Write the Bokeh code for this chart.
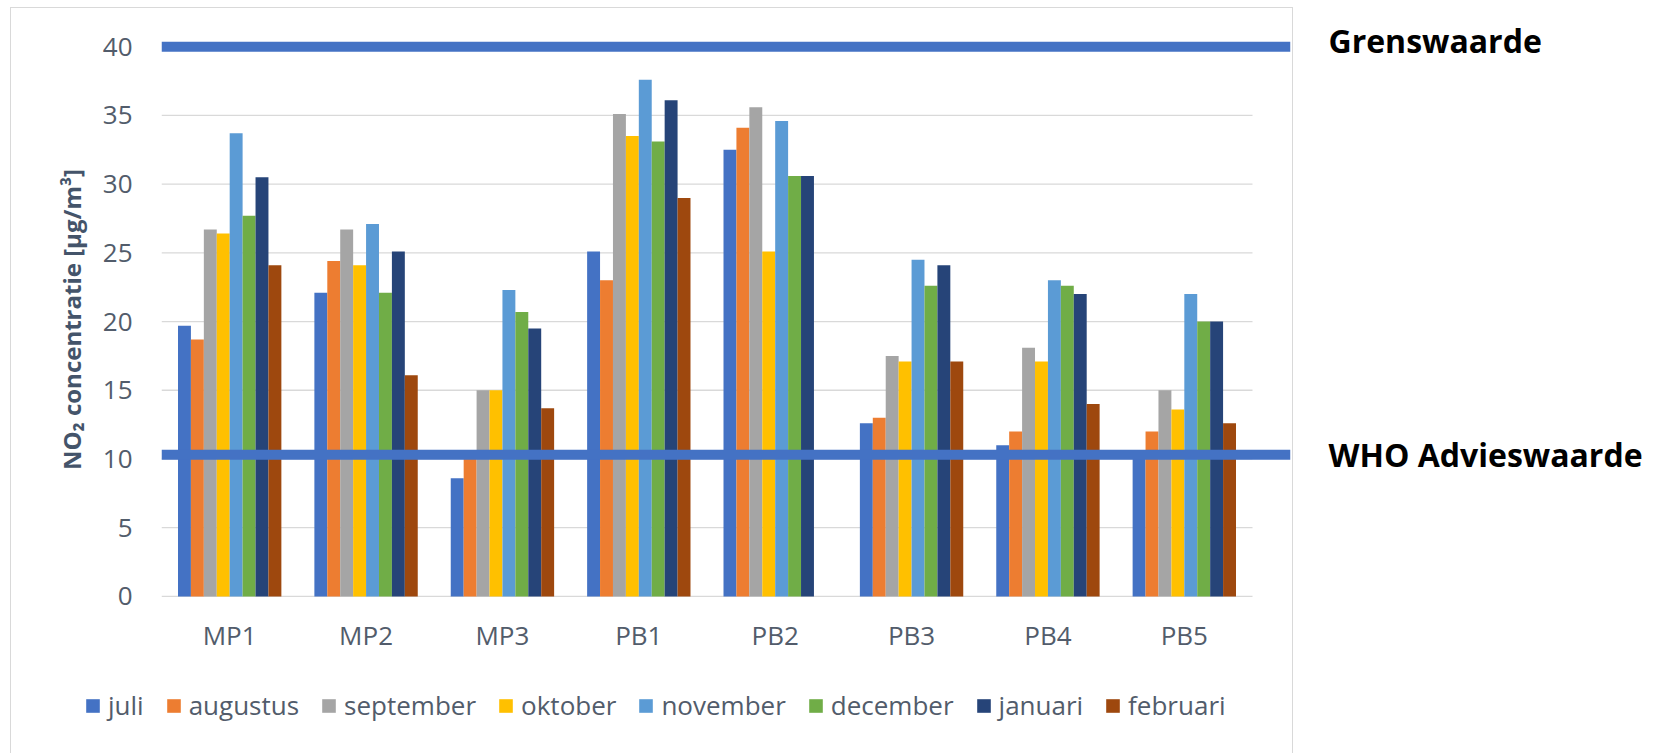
from bokeh.plotting import figure
from bokeh.models import Range1d, FixedTicker, Span, Legend, LegendItem
from bokeh.layouts import row, column
from bokeh.core.properties import value
from bokeh.embed import file_html
from bokeh.resources import INLINE

categories = ["MP1", "MP2", "MP3", "PB1", "PB2", "PB3", "PB4", "PB5"]
months = ["juli", "augustus", "september", "oktober", "november", "december", "januari", "februari"]
colors = ["#4472C4", "#ED7D31", "#A5A5A5", "#FFC000", "#5B9BD5", "#70AD47", "#264478", "#9E480E"]

juli = [19.7, 22.1, 8.6, 25.1, 32.5, 12.6, 11.0, 10.0]
augustus = [18.7, 24.4, 10.2, 23.0, 34.1, 13.0, 12.0, 12.0]
september = [26.7, 26.7, 15.0, 35.1, 35.6, 17.5, 18.1, 15.0]
oktober = [26.4, 24.1, 15.0, 33.5, 25.1, 17.1, 17.1, 13.6]
november = [33.7, 27.1, 22.3, 37.6, 34.6, 24.5, 23.0, 22.0]
december = [27.7, 22.1, 20.7, 33.1, 30.6, 22.6, 22.6, 20.0]
januari = [30.5, 25.1, 19.5, 36.1, 30.6, 24.1, 22.0, 20.0]
februari = [24.1, 16.1, 13.7, 29.0, None, 17.1, 14.0, 12.6]
series = [juli, augustus, september, oktober, november, december, januari, februari]

y_ticks = [0, 5, 10, 15, 20, 25, 30, 35, 40]
grenswaarde = 40
who_advieswaarde = 10.3
ref_labels = ["Grenswaarde", "WHO Advieswaarde"]
ref_values = [grenswaarde, who_advieswaarde]

FONT = "Open Sans"
TXT = "#525c6b"
LINE_BLUE = "#4472C4"

n = len(categories)
FRAME_W, FRAME_H = 1129, 562
Y_RANGE = (-0.3, 40.6)
x_end = n * FRAME_W / 1091
PX_PER_Y = FRAME_H / (Y_RANGE[1] - Y_RANGE[0])


def no_align(f):
    if "frame_align" in f.properties():
        f.frame_align = False
        return True
    return False


# ---------------- main chart ----------------
p = figure(x_range=Range1d(0, x_end), y_range=Range1d(*Y_RANGE),
           frame_width=FRAME_W, frame_height=FRAME_H,
           min_border_left=150, min_border_right=2, min_border_top=30, min_border_bottom=65,
           output_backend="svg", toolbar_location=None)
p.outline_line_color = None
p.xgrid.visible = False
p.ygrid.visible = False
aligned_off = no_align(p)

p.segment(x0=[0] * (len(y_ticks) - 1), x1=[n] * (len(y_ticks) - 1),
          y0=y_ticks[:-1], y1=y_ticks[:-1], line_color="#d9d9d9", line_width=1.3)

bw = 0.758 / len(months)
xs_all = []
for j, (m, vals) in enumerate(zip(months, series)):
    xs = [i + 0.5 + (j - (len(months) - 1) / 2) * bw for i in range(n)]
    xs_all.append(xs)
    p.vbar(x=xs, top=vals, bottom=0, width=bw, fill_color=colors[j], line_color=None)

for v in ref_values:
    p.add_layout(Span(location=v, dimension="width", line_color=LINE_BLUE, line_width=10))

ya = p.yaxis[0]
ya.ticker = FixedTicker(ticks=y_ticks)
ya.axis_line_color = None
ya.major_tick_line_color = None
ya.minor_tick_line_color = None
ya.major_tick_out = 0
ya.major_label_standoff = 29
ya.major_label_text_font = FONT
ya.major_label_text_font_size = "26px"
ya.major_label_text_color = TXT
ya.axis_label = "NO\u2082 concentratie [\u00b5g/m\u00b3]"
ya.axis_label_text_font = FONT
ya.axis_label_text_font_style = "bold"
ya.axis_label_text_font_size = "24px"
ya.axis_label_text_color = "#44546a"
ya.axis_label_standoff = 12

xa = p.xaxis[0]
xa.ticker = FixedTicker(ticks=[i + 0.5 for i in range(n)])
xa.major_label_overrides = {i + 0.5: c for i, c in enumerate(categories)}
xa.axis_line_color = None
xa.major_tick_line_color = None
xa.minor_tick_line_color = None
xa.major_tick_out = 0
xa.major_label_standoff = 16
xa.major_label_text_font = FONT
xa.major_label_text_font_size = "26px"
xa.major_label_text_color = TXT

# ---------------- legend strip ----------------
pl = figure(width=1281, height=88, frame_width=1281, frame_height=88,
            x_range=Range1d(0, 1), y_range=Range1d(100, 101),
            min_border_left=0, min_border_right=0, min_border_top=0, min_border_bottom=0,
            output_backend="svg", toolbar_location=None)
pl.outline_line_color = None
pl.axis.visible = False
pl.grid.visible = False
no_align(pl)
leg_items = []
for m, c, xs, vals in zip(months, colors, xs_all, series):
    # legend proxies: hidden renderers, only their colour feeds the legend
    r = pl.vbar(x=xs, top=vals, bottom=vals, width=bw, fill_color=c, line_color=None)
    r.visible = False
    leg_items.append(LegendItem(label=m, renderers=[r]))
leg_x = 73 if aligned_off else 73 - 150
legend = Legend(items=leg_items, orientation="horizontal", location=(leg_x, 30),
                label_text_font=FONT, label_text_font_size="26px", label_text_color=TXT,
                glyph_width=17, glyph_height=17, label_standoff=7, spacing=21,
                padding=0, margin=0, border_line_color=None, background_fill_alpha=0,
                click_policy="none")
if "inactive_fill_alpha" in legend.properties():
    legend.inactive_fill_alpha = 0
pl.add_layout(legend)

chart = column(p, pl, spacing=0, margin=(7, 0, 0, 10),
               styles={"border-top": "1px solid #d9d9d9", "border-left": "1px solid #d9d9d9",
                       "border-right": "1px solid #d9d9d9"})

# ---------------- right-hand labels ----------------
PR_H = 740
pr_top = Y_RANGE[1] + 38 / PX_PER_Y
pr_bottom = pr_top - PR_H / PX_PER_Y
pr = figure(width=355, height=PR_H, x_range=Range1d(0, 355), y_range=Range1d(pr_bottom, pr_top),
            frame_width=355, frame_height=PR_H,
            min_border_left=0, min_border_right=0, min_border_top=0, min_border_bottom=0,
            output_backend="svg", toolbar_location=None)
pr.outline_line_color = None
pr.axis.visible = False
pr.grid.visible = False
no_align(pr)
pr.text(x=[35, 35], y=ref_values, text=ref_labels, y_offset=[-6.3, -0.5],
        text_font=value(FONT), text_font_style="bold", text_font_size=value("32px"),
        text_color="black", text_baseline="alphabetic", text_align="left")

layout = row(chart, pr, spacing=0)
open("out.html", "w").write(file_html(layout, INLINE))
